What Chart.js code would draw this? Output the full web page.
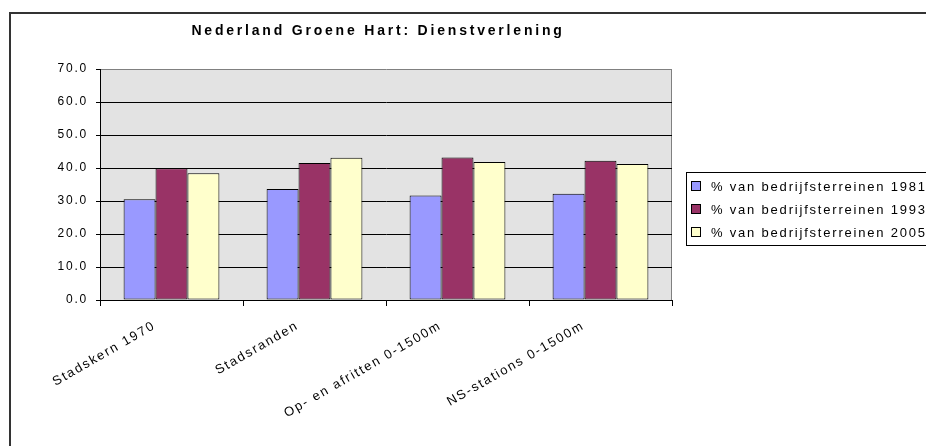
<!DOCTYPE html>
<html>
<head>
<meta charset="utf-8">
<title>Nederland Groene Hart: Dienstverlening</title>
<script src="https://cdn.jsdelivr.net/npm/chart.js@4.4.1/dist/chart.umd.min.js"></script>
<style>
  html, body { margin: 0; padding: 0; background: #fff; }
  #wrap { position: relative; width: 926px; height: 446px; }
</style>
</head>
<body>
<div id="wrap"><canvas id="chart" width="926" height="446"></canvas></div>
<script>
const categories = ['Stadskern 1970', 'Stadsranden', 'Op- en afritten 0-1500m', 'NS-stations 0-1500m'];
const seriesNames = ['% van bedrijfsterreinen 1981', '% van bedrijfsterreinen 1993', '% van bedrijfsterreinen 2005'];
const values1981 = [30.5, 33.6, 31.7, 32.2];
const values1993 = [39.9, 41.5, 43.2, 42.2];
const values2005 = [38.4, 43.1, 41.8, 41.2];
const seriesColors = ['#9999ff', '#993366', '#ffffcc'];
const yTicks = [0, 10, 20, 30, 40, 50, 60, 70];

const chartTitle = 'Nederland Groene Hart: Dienstverlening';
const FONT = '"Liberation Sans", Arial, sans-serif';

// canvas letter spacing gets reset whenever the canvas is resized
const spacing = {
  id: 'spacing',
  beforeLayout(chart) { chart.ctx.letterSpacing = '1.8px'; },
  beforeDraw(chart) { chart.ctx.letterSpacing = '1.8px'; }
};

const frame = {
  id: 'frame',
  beforeDraw(chart) {
    const { ctx, chartArea: a } = chart;
    ctx.save();
    ctx.fillStyle = '#e3e3e3';
    ctx.fillRect(a.left, a.top, a.right - a.left, a.bottom - a.top);
    ctx.strokeStyle = '#808080';
    ctx.lineWidth = 1;
    ctx.beginPath();
    ctx.moveTo(a.right - 0.5, a.top);
    ctx.lineTo(a.right - 0.5, a.bottom);
    ctx.stroke();
    // outer chart border (top and left)
    ctx.strokeStyle = '#333';
    ctx.lineWidth = 2;
    ctx.beginPath();
    ctx.moveTo(10, 446);
    ctx.lineTo(10, 13);
    ctx.lineTo(926, 13);
    ctx.stroke();
    ctx.restore();
  },
  afterDraw(chart) {
    const { ctx } = chart;
    ctx.save();
    ctx.fillStyle = '#000';
    ctx.textBaseline = 'middle';
    ctx.textAlign = 'center';
    ctx.letterSpacing = '2.8px';
    ctx.font = 'bold 14px ' + FONT;
    ctx.fillText(chartTitle, 378, 31);

    // legend box
    ctx.strokeStyle = '#000';
    ctx.lineWidth = 1;
    ctx.strokeRect(686.5, 172.5, 260, 73);
    ctx.textAlign = 'left';
    ctx.font = '13px ' + FONT;
    ctx.letterSpacing = '1.8px';
    chart.data.datasets.forEach((ds, i) => {
      const y = 186 + i * 23;
      ctx.fillStyle = ds.backgroundColor;
      ctx.fillRect(691.5, y - 4.5, 9, 9);
      ctx.strokeRect(691.5, y - 4.5, 9, 9);
      ctx.fillStyle = '#000';
      ctx.fillText(ds.label, 711, y + 1);
    });
    ctx.restore();
  }
};

const datasets = [values1981, values1993, values2005].map((data, i) => ({
  label: seriesNames[i],
  data,
  backgroundColor: seriesColors[i],
  borderColor: '#000',
  borderWidth: 1,
  borderSkipped: false,
  categoryPercentage: 0.67,
  barPercentage: 1
}));

new Chart(document.getElementById('chart'), {
  type: 'bar',
  data: { labels: categories, datasets },
  options: {
    responsive: false,
    animation: false,
    events: [],
    layout: { padding: { top: 69, right: 254, left: 0, bottom: 0 } },
    plugins: { legend: { display: false }, title: { display: false }, tooltip: { enabled: false } },
    scales: {
      x: {
        afterFit(scale) { scale.height = 146; },
        border: { display: true, color: '#000', width: 1 },
        grid: {
          offset: true,
          drawOnChartArea: false,
          drawTicks: true,
          tickLength: 6,
          color: '#000'
        },
        ticks: {
          color: '#000',
          font: { family: FONT, size: 13 },
          maxRotation: 30,
          minRotation: 30,
          labelOffset: -17,
          padding: 12,
          autoSkip: false
        }
      },
      y: {
        min: 0,
        max: 70,
        afterFit(scale) { scale.width = 100; },
        afterBuildTicks(scale) { scale.ticks = yTicks.map(v => ({ value: v })); },
        border: { display: true, color: '#000', width: 1 },
        grid: {
          color: ctx => (ctx.tick && ctx.tick.value === 70 ? '#808080' : '#000'),
          lineWidth: 1,
          tickLength: 4,
          tickColor: '#000'
        },
        ticks: {
          color: '#000',
          font: { family: FONT, size: 12 },
          padding: 8,
          callback: v => Number(v).toFixed(1)
        }
      }
    }
  },
  plugins: [spacing, frame]
});
</script>
</body>
</html>
